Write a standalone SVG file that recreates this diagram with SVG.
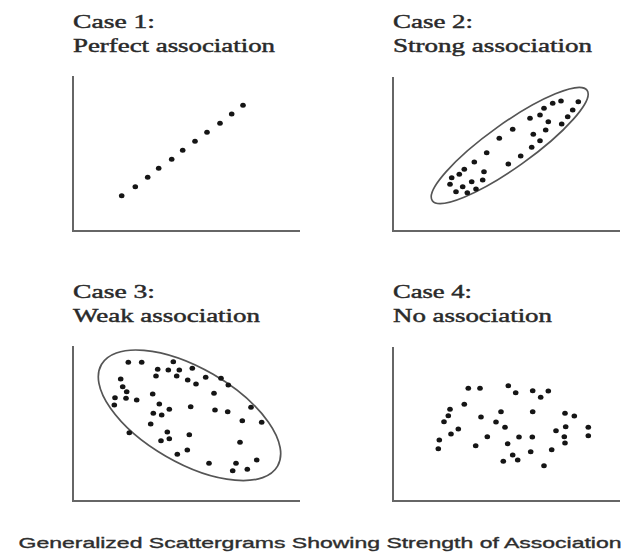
<svg xmlns="http://www.w3.org/2000/svg" xmlns:xlink="http://www.w3.org/1999/xlink" width="634" height="555" viewBox="0 0 634 555">
<style>
  .title { font-family: "Liberation Serif", "Times New Roman", serif; font-size: 19px; fill: #2a2a2a; stroke: #2a2a2a; stroke-width: 0.45px; }
  .caption { font-family: "Liberation Sans", Arial, sans-serif; font-size: 14.5px; fill: #2e2e2e; stroke: #2e2e2e; stroke-width: 0.35px; }
  .axis { fill: none; stroke: #666; stroke-width: 2; }
  .ring { fill: none; stroke: #555; stroke-width: 1.7; }
  .dot { fill: #151515; }
</style>
<defs>
  <ellipse id="d" rx="2.8" ry="2.5" class="dot"/>
</defs>
<rect width="634" height="555" fill="#ffffff"/>

<g id="case1">
  <text class="title" x="73" y="27.5" textLength="82" lengthAdjust="spacingAndGlyphs">Case 1:</text>
  <text class="title" x="73" y="52" textLength="202" lengthAdjust="spacingAndGlyphs">Perfect association</text>
  <path class="axis" d="M73,76 V231 H300"/>
  <use xlink:href="#d" x="121.7" y="195.7"/><use xlink:href="#d" x="135.3" y="186.7"/>
  <use xlink:href="#d" x="147.7" y="177.3"/><use xlink:href="#d" x="158.7" y="168.3"/>
  <use xlink:href="#d" x="171.7" y="159.3"/><use xlink:href="#d" x="182.7" y="150.3"/>
  <use xlink:href="#d" x="195" y="141.3"/><use xlink:href="#d" x="207" y="132.3"/>
  <use xlink:href="#d" x="220" y="123.3"/><use xlink:href="#d" x="231.7" y="114"/>
  <use xlink:href="#d" x="243" y="105.3"/>
</g>

<g id="case2">
  <text class="title" x="393" y="28" textLength="80" lengthAdjust="spacingAndGlyphs">Case 2:</text>
  <text class="title" x="393" y="52" textLength="199" lengthAdjust="spacingAndGlyphs">Strong association</text>
  <path class="axis" d="M393,77 V231 H620"/>
  <ellipse class="ring" cx="509.7" cy="145.5" rx="95" ry="22" transform="rotate(-35.5 509.7 145.5)"/>
  <use xlink:href="#d" x="578.3" y="101.7"/><use xlink:href="#d" x="561" y="101"/>
  <use xlink:href="#d" x="552.7" y="103.3"/><use xlink:href="#d" x="544" y="108.3"/>
  <use xlink:href="#d" x="540" y="115"/><use xlink:href="#d" x="530" y="118.3"/>
  <use xlink:href="#d" x="572.7" y="110"/><use xlink:href="#d" x="567.7" y="116.7"/>
  <use xlink:href="#d" x="548.3" y="121.7"/><use xlink:href="#d" x="561.7" y="124"/>
  <use xlink:href="#d" x="512.7" y="129.3"/><use xlink:href="#d" x="533.3" y="134.3"/>
  <use xlink:href="#d" x="545.7" y="130"/><use xlink:href="#d" x="499.3" y="138.3"/>
  <use xlink:href="#d" x="540" y="140.7"/><use xlink:href="#d" x="531.7" y="147.3"/>
  <use xlink:href="#d" x="486.7" y="152.7"/><use xlink:href="#d" x="520.7" y="156"/>
  <use xlink:href="#d" x="508.3" y="164"/><use xlink:href="#d" x="474.3" y="162"/>
  <use xlink:href="#d" x="464.3" y="169.3"/><use xlink:href="#d" x="484" y="171.7"/>
  <use xlink:href="#d" x="459.3" y="174.3"/><use xlink:href="#d" x="451.7" y="177.7"/>
  <use xlink:href="#d" x="482.7" y="180"/><use xlink:href="#d" x="471.7" y="181.7"/>
  <use xlink:href="#d" x="450" y="184.3"/><use xlink:href="#d" x="462.7" y="186.7"/>
  <use xlink:href="#d" x="476" y="189"/><use xlink:href="#d" x="456" y="191.7"/>
  <use xlink:href="#d" x="467.3" y="192.7"/>
</g>

<g id="case3">
  <text class="title" x="73" y="298" textLength="82" lengthAdjust="spacingAndGlyphs">Case 3:</text>
  <text class="title" x="73" y="322" textLength="187" lengthAdjust="spacingAndGlyphs">Weak association</text>
  <path class="axis" d="M73,346 V501 H300"/>
  <ellipse class="ring" cx="189.5" cy="415.3" rx="101.7" ry="47.3" transform="rotate(30 189.5 415.3)"/>
  <use xlink:href="#d" x="128.3" y="362.3"/><use xlink:href="#d" x="141.7" y="362.3"/>
  <use xlink:href="#d" x="173.3" y="361.7"/><use xlink:href="#d" x="157.7" y="369.3"/>
  <use xlink:href="#d" x="168.3" y="370"/><use xlink:href="#d" x="179.3" y="370"/>
  <use xlink:href="#d" x="192.3" y="368.3"/><use xlink:href="#d" x="156" y="376"/>
  <use xlink:href="#d" x="176.7" y="376"/><use xlink:href="#d" x="187.7" y="380"/>
  <use xlink:href="#d" x="196" y="384"/><use xlink:href="#d" x="205.7" y="377.3"/>
  <use xlink:href="#d" x="221" y="378.3"/><use xlink:href="#d" x="228.3" y="385"/>
  <use xlink:href="#d" x="120.7" y="379"/><use xlink:href="#d" x="122.7" y="386.7"/>
  <use xlink:href="#d" x="126.7" y="391.7"/><use xlink:href="#d" x="115" y="397.7"/>
  <use xlink:href="#d" x="126" y="398.3"/><use xlink:href="#d" x="136.7" y="400"/>
  <use xlink:href="#d" x="114.3" y="405"/><use xlink:href="#d" x="152.7" y="394"/>
  <use xlink:href="#d" x="159.3" y="404"/><use xlink:href="#d" x="169.3" y="409.3"/>
  <use xlink:href="#d" x="153.3" y="413.3"/><use xlink:href="#d" x="161.7" y="415"/>
  <use xlink:href="#d" x="190.7" y="406.7"/><use xlink:href="#d" x="215" y="410"/>
  <use xlink:href="#d" x="227.7" y="411.7"/><use xlink:href="#d" x="214" y="393.3"/>
  <use xlink:href="#d" x="251" y="407.3"/><use xlink:href="#d" x="242.3" y="420.7"/>
  <use xlink:href="#d" x="261.7" y="422.3"/><use xlink:href="#d" x="150.7" y="424"/>
  <use xlink:href="#d" x="129.3" y="432.7"/><use xlink:href="#d" x="167.3" y="432"/>
  <use xlink:href="#d" x="189.3" y="434.7"/><use xlink:href="#d" x="161" y="440.7"/>
  <use xlink:href="#d" x="169.3" y="438.7"/><use xlink:href="#d" x="240" y="442.3"/>
  <use xlink:href="#d" x="187.3" y="450"/><use xlink:href="#d" x="177.3" y="454.3"/>
  <use xlink:href="#d" x="209" y="463.3"/><use xlink:href="#d" x="236" y="463.3"/>
  <use xlink:href="#d" x="256.7" y="460"/><use xlink:href="#d" x="232.7" y="470.7"/>
  <use xlink:href="#d" x="247.3" y="469.3"/>
</g>

<g id="case4">
  <text class="title" x="393" y="298" textLength="79" lengthAdjust="spacingAndGlyphs">Case 4:</text>
  <text class="title" x="393" y="322" textLength="159" lengthAdjust="spacingAndGlyphs">No association</text>
  <path class="axis" d="M393,347 V501 H620"/>
  <use xlink:href="#d" x="468.3" y="388.3"/><use xlink:href="#d" x="480" y="388.3"/>
  <use xlink:href="#d" x="508.3" y="385.7"/><use xlink:href="#d" x="515.7" y="392.7"/>
  <use xlink:href="#d" x="532.7" y="390.7"/><use xlink:href="#d" x="540.7" y="397.3"/>
  <use xlink:href="#d" x="548.3" y="391"/><use xlink:href="#d" x="464.3" y="404.3"/>
  <use xlink:href="#d" x="450" y="409.3"/><use xlink:href="#d" x="448.3" y="415.7"/>
  <use xlink:href="#d" x="444" y="421.7"/><use xlink:href="#d" x="481" y="417"/>
  <use xlink:href="#d" x="501" y="411.7"/><use xlink:href="#d" x="532.7" y="411.7"/>
  <use xlink:href="#d" x="496" y="422"/><use xlink:href="#d" x="505" y="427.3"/>
  <use xlink:href="#d" x="565" y="413.3"/><use xlink:href="#d" x="574.3" y="416"/>
  <use xlink:href="#d" x="458.3" y="429"/><use xlink:href="#d" x="451" y="434"/>
  <use xlink:href="#d" x="487.3" y="436.7"/><use xlink:href="#d" x="519" y="437"/>
  <use xlink:href="#d" x="532.3" y="437"/><use xlink:href="#d" x="556" y="430.7"/>
  <use xlink:href="#d" x="565.7" y="426.7"/><use xlink:href="#d" x="588.3" y="427.3"/>
  <use xlink:href="#d" x="588.3" y="435.7"/><use xlink:href="#d" x="564.3" y="436.7"/>
  <use xlink:href="#d" x="565" y="443"/><use xlink:href="#d" x="439.3" y="440"/>
  <use xlink:href="#d" x="438.3" y="448.7"/><use xlink:href="#d" x="475.7" y="445.7"/>
  <use xlink:href="#d" x="507.7" y="443.7"/><use xlink:href="#d" x="530.7" y="451.7"/>
  <use xlink:href="#d" x="551.7" y="449.7"/><use xlink:href="#d" x="512.7" y="455"/>
  <use xlink:href="#d" x="517.7" y="460"/><use xlink:href="#d" x="503.3" y="461.3"/>
  <use xlink:href="#d" x="544" y="465.7"/>
</g>

<g id="caption">
  <text class="caption" x="18.5" y="547.5" textLength="603" lengthAdjust="spacingAndGlyphs">Generalized Scattergrams Showing Strength of Association</text>
</g>
</svg>
